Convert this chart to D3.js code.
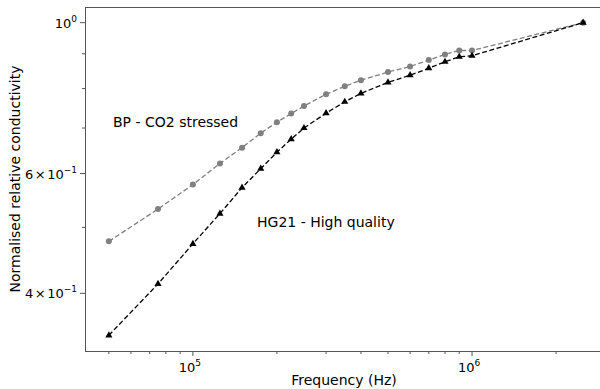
<!DOCTYPE html>
<html>
<head>
<meta charset="utf-8">
<script src="https://cdn.jsdelivr.net/npm/d3@7"></script>
<style>
  body { margin: 0; background: #fff; }
  svg { display: block; overflow: hidden; }
  text { font-family: "DejaVu Sans", sans-serif; fill: #000; }
</style>
</head>
<body>
<div id="chart"></div>
<script>
// frequencies (Hz)
const freqs = [5e4, 7.5e4, 1e5, 1.25e5, 1.5e5, 1.75e5, 2e5, 2.25e5, 2.5e5, 3e5, 3.5e5, 4e5,
  5e5, 6e5, 7e5, 8e5, 9e5, 1e6, 2.5e6];
// BP - CO2 stressed (grey circles)
const bpValues = [0.477, 0.532, 0.578, 0.621, 0.655, 0.688, 0.714, 0.735, 0.754, 0.785, 0.806,
  0.823, 0.846, 0.862, 0.881, 0.898, 0.910, 0.910, 1.0];
// HG21 - High quality (black triangles)
const hgValues = [0.347, 0.413, 0.473, 0.524, 0.572, 0.610, 0.645, 0.674, 0.700, 0.736, 0.765,
  0.787, 0.817, 0.837, 0.857, 0.876, 0.891, 0.894, 1.0];
const yTickValues = [1.0, 0.6, 0.4];
const yTickMantissas = ["", "6", "4"];
const yTickExps = ["0", "\u22121", "\u22121"];
const xTickValues = [1e5, 1e6];
const xTickExps = ["5", "6"];

const width = 600;
const height = 389;
const margin = { top: 7, left: 85, bottom: 38 };
const plotRight = 607;

const svg = d3.select("#chart")
  .append("svg")
  .attr("width", width)
  .attr("height", height);

const x = d3.scaleLog()
  .domain([Math.pow(10, 4.6135), Math.pow(10, 6.4835)])
  .range([margin.left, plotRight]);

const y = d3.scaleLog()
  .domain([Math.pow(10, -0.4827), Math.pow(10, 0.0230)])
  .range([height - margin.bottom, margin.top]);

const bottom = height - margin.bottom;

// minor ticks
const xMinor = [];
for (let d = 1e4; d <= 1e6; d *= 10) {
  for (let k = 2; k <= 9; k++) {
    const v = d * k;
    if (v > x.domain()[0] && v < x.domain()[1]) xMinor.push(v);
  }
}
const yMinor = [0.3, 0.5, 0.7, 0.8, 0.9].filter(v => v > y.domain()[0] && v < y.domain()[1]);

const axisColor = "#555";

svg.append("g")
  .selectAll("line")
  .data(xMinor)
  .join("line")
  .attr("x1", d => x(d)).attr("x2", d => x(d))
  .attr("y1", bottom).attr("y2", bottom + 3)
  .attr("stroke", axisColor);

svg.append("g")
  .selectAll("line")
  .data(xTickValues)
  .join("line")
  .attr("x1", d => x(d)).attr("x2", d => x(d))
  .attr("y1", bottom).attr("y2", bottom + 5)
  .attr("stroke", axisColor);

svg.append("g")
  .selectAll("line")
  .data(yMinor)
  .join("line")
  .attr("x1", margin.left - 3).attr("x2", margin.left)
  .attr("y1", d => y(d)).attr("y2", d => y(d))
  .attr("stroke", axisColor);

svg.append("g")
  .selectAll("line")
  .data(yTickValues)
  .join("line")
  .attr("x1", margin.left - 5).attr("x2", margin.left)
  .attr("y1", d => y(d)).attr("y2", d => y(d))
  .attr("stroke", axisColor);

// x tick labels
const xl = svg.append("g")
  .selectAll("text")
  .data(xTickValues)
  .join("text")
  .attr("x", d => x(d) - 3)
  .attr("y", bottom + 21)
  .attr("text-anchor", "middle")
  .style("font-size", "13px");
xl.append("tspan").text("10");
xl.append("tspan")
  .attr("dy", -6)
  .style("font-size", "9px")
  .text((d, i) => xTickExps[i]);

// y tick labels: "m × 10^e"
const yl = svg.append("g")
  .selectAll("text")
  .data(yTickValues)
  .join("text")
  .attr("x", margin.left - 8)
  .attr("y", d => y(d) + 5)
  .attr("text-anchor", "end")
  .style("font-size", "13px");
yl.each(function (d, i) {
  const t = d3.select(this);
  if (yTickMantissas[i]) {
    t.append("tspan").text(yTickMantissas[i]);
    t.append("tspan").attr("dx", 1.5).text("\u00d7");
    t.append("tspan").attr("dx", 1.5).text("10");
  } else {
    t.append("tspan").text("10");
  }
  t.append("tspan")
    .attr("dy", -6)
    .style("font-size", "9px")
    .text(yTickExps[i]);
});

// series
const bpData = freqs.map((f, i) => ({ f, v: bpValues[i] }));
const hgData = freqs.map((f, i) => ({ f, v: hgValues[i] }));

const line = d3.line().x(d => x(d.f)).y(d => y(d.v));

svg.append("path")
  .datum(bpData)
  .attr("d", line)
  .attr("fill", "none")
  .attr("stroke", "#808080")
  .attr("stroke-width", 1.3)
  .attr("stroke-dasharray", "5,2.5");

svg.append("g")
  .selectAll("circle")
  .data(bpData)
  .join("circle")
  .attr("cx", d => x(d.f))
  .attr("cy", d => y(d.v))
  .attr("r", 3)
  .attr("fill", "#808080");

svg.append("path")
  .datum(hgData)
  .attr("d", line)
  .attr("fill", "none")
  .attr("stroke", "#000")
  .attr("stroke-width", 1.3)
  .attr("stroke-dasharray", "5,2.5");

const tri = d3.symbol().type(d3.symbolTriangle).size(22);
svg.append("g")
  .selectAll("path")
  .data(hgData)
  .join("path")
  .attr("d", tri)
  .attr("transform", d => `translate(${x(d.f)},${y(d.v)})`)
  .attr("fill", "#000");

// spines (right spine falls outside the picture)
svg.append("rect")
  .attr("x", margin.left + 0.5)
  .attr("y", margin.top + 0.5)
  .attr("width", plotRight - margin.left)
  .attr("height", bottom - margin.top)
  .attr("fill", "none")
  .attr("stroke", axisColor);

// annotations
svg.append("text")
  .attr("x", 113)
  .attr("y", 127)
  .style("font-size", "14px")
  .text("BP - CO2 stressed");

svg.append("text")
  .attr("x", 257)
  .attr("y", 227)
  .style("font-size", "14px")
  .text("HG21 - High quality");

// axis labels
svg.append("text")
  .attr("x", 344)
  .attr("y", 385)
  .attr("text-anchor", "middle")
  .style("font-size", "14px")
  .text("Frequency (Hz)");

svg.append("text")
  .attr("transform", `translate(20,${(margin.top + bottom) / 2}) rotate(-90)`)
  .attr("text-anchor", "middle")
  .style("font-size", "14px")
  .text("Normalised relative conductivity");
</script>
</body>
</html>
